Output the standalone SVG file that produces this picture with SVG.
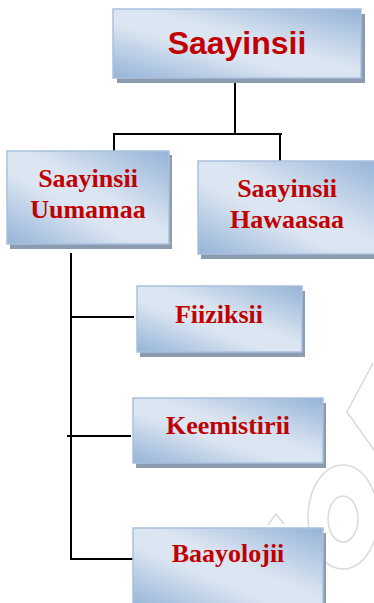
<svg xmlns="http://www.w3.org/2000/svg" width="374" height="603" viewBox="0 0 374 603">
<defs>
<linearGradient id="g" x1="1" y1="0" x2="0" y2="1">
<stop offset="0" stop-color="#95b3d7"/>
<stop offset="0.45" stop-color="#dce6f2"/>
<stop offset="0.6" stop-color="#dce6f2"/>
<stop offset="1" stop-color="#95b3d7"/>
</linearGradient>
<style>
.box{fill:url(#g);stroke:#a9c0de;stroke-width:1.5}
.sh{fill:#8d9bb0}
.t{font-family:"Liberation Serif","Times New Roman",serif;font-weight:bold;font-size:26px;fill:#c00000;text-anchor:middle}
.ts{font-family:"Liberation Sans",Arial,sans-serif;font-weight:bold;font-size:32px;fill:#c00000;text-anchor:middle}
.c{stroke:#000;stroke-width:2;fill:none}
.wm{stroke:#dadada;stroke-width:1.5;fill:none}
</style>
</defs>
<g id="watermark">
<path class="wm" d="M373,363 L347,412 L374,450"/>
<ellipse class="wm" cx="343" cy="517" rx="35" ry="52"/>
<ellipse class="wm" cx="343" cy="519" rx="15" ry="23"/>
<path class="wm" d="M268,525 L276,514 L284,524"/>
</g>
<g id="connectors">
<path class="c" d="M235,78 V134 M113,134 H282 M114,134 V151 M280,134 V161"/>
<path class="c" d="M71,253 V560 M71,317 H134 M67,436 H131 M70,559 H133"/>
</g>
<g id="n-saayinsii">
<rect class="sh" x="117" y="14" width="248" height="69"/>
<rect class="box" x="113" y="9" width="248" height="69"/>
<text class="ts" x="237" y="54">Saayinsii</text>
</g>
<g id="n-uumamaa">
<rect class="sh" x="10" y="155" width="162" height="94"/>
<rect class="box" x="7" y="151" width="162" height="93"/>
<text class="t" x="88" y="187">Saayinsii</text>
<text class="t" x="88" y="218">Uumamaa</text>
</g>
<g id="n-hawaasaa">
<rect class="sh" x="201" y="165" width="180" height="94"/>
<rect class="box" x="198" y="161" width="180" height="93"/>
<text class="t" x="287" y="197">Saayinsii</text>
<text class="t" x="287" y="228">Hawaasaa</text>
</g>
<g id="n-fiiziksii">
<rect class="sh" x="140" y="291" width="165" height="66"/>
<rect class="box" x="137" y="286" width="165" height="66"/>
<text class="t" x="219" y="323">Fiiziksii</text>
</g>
<g id="n-keemistirii">
<rect class="sh" x="136" y="403" width="190" height="65"/>
<rect class="box" x="133" y="398" width="190" height="65"/>
<text class="t" x="228" y="434">Keemistirii</text>
</g>
<g id="n-baayolojii">
<rect class="sh" x="136" y="533" width="190" height="80"/>
<rect class="box" x="133" y="528" width="190" height="80"/>
<text class="t" x="228" y="562">Baayolojii</text>
</g>
</svg>
